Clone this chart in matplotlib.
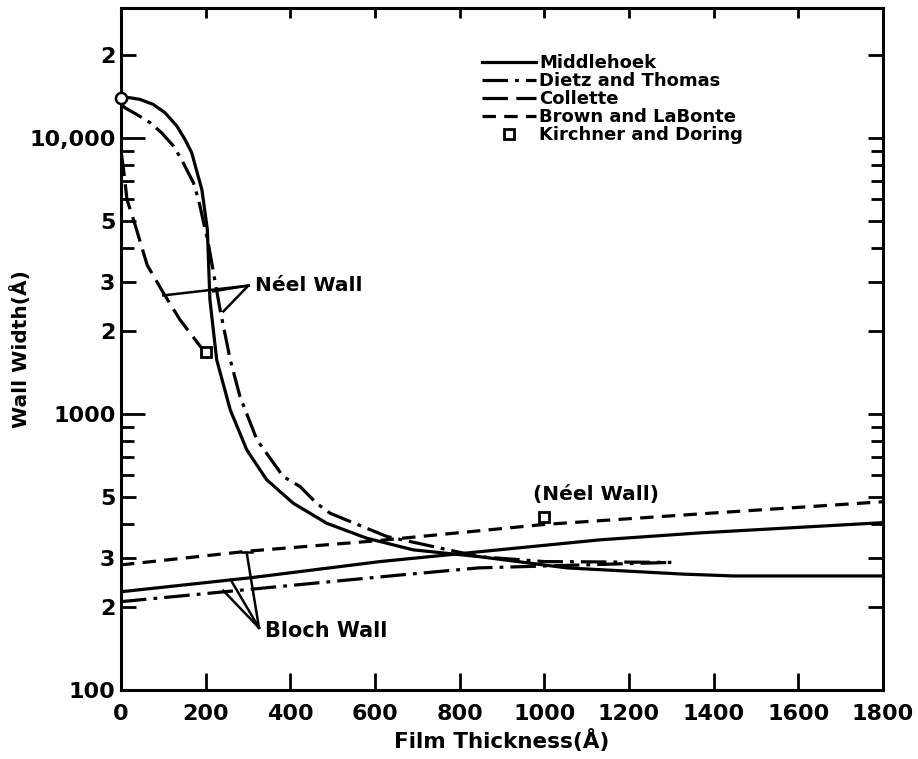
import matplotlib.pyplot as plt
from matplotlib.ticker import FixedLocator, FixedFormatter, NullFormatter

# wall width vs film thickness
middlehoek_neel_x = [0, 21, 45, 76, 104, 132, 151, 167, 180, 191, 204, 210, 226, 258, 297, 344, 407, 486, 580, 690, 848, 1053, 1328, 1446, 1800]
middlehoek_neel_y = [14000, 14000, 13800, 13240, 12350, 11050, 9890, 8850, 7480, 6510, 4660, 2600, 1574, 1036, 742, 578, 475, 402, 355, 322, 304, 277, 263, 259, 259]

dietz_neel_x = [0, 9, 37, 69, 96, 124, 143, 155, 171, 183, 206, 234, 258, 281, 321, 383, 423, 462, 494, 541, 628, 848, 1000, 1300]
dietz_neel_y = [13400, 12880, 12180, 11360, 10450, 9350, 8360, 7690, 6890, 5990, 4170, 2390, 1574, 1158, 807, 594, 546, 475, 437, 408, 360, 304, 292, 290]

collette_x = [0, 9, 14, 31, 62, 100, 139, 187, 200]
collette_y = [9000, 7080, 5990, 4980, 3460, 2750, 2200, 1760, 1680]

brown_x = [0, 305, 600, 1000, 1400, 1800]
brown_y = [284, 319, 347, 398, 438, 481]

middlehoek_bloch_x = [0, 305, 612, 1131, 1368, 1800]
middlehoek_bloch_y = [227, 255, 292, 350, 371, 404]

dietz_bloch_x = [0, 659, 845, 1300]
dietz_bloch_y = [209, 261, 277, 290]

kirchner_x = [200, 1000]
kirchner_y = [1680, 423]

x_ticks = [0, 200, 400, 600, 800, 1000, 1200, 1400, 1600, 1800]
x_tick_labels = ["0", "200", "400", "600", "800", "1000", "1200", "1400", "1600", "1800"]
y_ticks = [100, 200, 300, 500, 1000, 2000, 3000, 5000, 10000, 20000]
y_tick_labels = ["100", "2", "3", "5", "1000", "2", "3", "5", "10,000", "2"]
y_minor = [400, 600, 700, 800, 900, 4000, 6000, 7000, 8000, 9000]

plt.rcParams["font.family"] = ["DejaVu Sans"]
plt.rcParams["font.weight"] = "bold"

LW = 2.3
fig = plt.figure(figsize=(9.18, 7.59), dpi=100)
ax = fig.add_axes([0.1318, 0.0909, 0.8301, 0.8986])

ax.plot(middlehoek_neel_x, middlehoek_neel_y, color="black", lw=LW, label="Middlehoek")
ax.plot(middlehoek_bloch_x, middlehoek_bloch_y, color="black", lw=LW)
dd = (8, 2.2, 1.2, 2.2)
ax.plot(dietz_neel_x, dietz_neel_y, color="black", lw=LW, dashes=dd, label="Dietz and Thomas")
ax.plot(dietz_bloch_x, dietz_bloch_y, color="black", lw=LW, dashes=dd)
ax.plot(collette_x, collette_y, color="black", lw=LW, dashes=(8, 2.6), label="Collette")
ax.plot(brown_x, brown_y, color="black", lw=LW, dashes=(4.2, 2.6), label="Brown and LaBonte")
ax.plot(kirchner_x, kirchner_y, ls="none", marker="s", ms=7, mfc="white", mec="black", mew=2,
        label="Kirchner and Doring")
ax.plot([0], [14000], ls="none", marker="o", ms=8, mfc="white", mec="black", mew=1.8, clip_on=False, zorder=5)

# leader lines for the wall-type labels
neel_apex = (301, 2920)
for tx, ty in [(100, 2690), (218, 2784), (242, 2355)]:
    ax.plot([neel_apex[0], tx], [neel_apex[1], ty], color="black", lw=1.8)
ax.text(316, 2920, "Néel Wall", fontsize=14.5, fontweight="bold", va="center", ha="left")

bloch_apex = (326, 168)
for tx, ty in [(242, 229), (259, 251), (297, 314)]:
    ax.plot([bloch_apex[0], tx], [bloch_apex[1], ty], color="black", lw=1.8)
ax.plot([285, 310], [316, 316], color="black", lw=1.8)
ax.text(340, 163, "Bloch Wall", fontsize=15, fontweight="bold", va="center", ha="left")

ax.text(973, 509, "(Néel Wall)", fontsize=14.5, fontweight="bold", va="center", ha="left")

ax.set_yscale("log")
ax.set_xlim(0, 1800)
ax.set_ylim(100, 29600)

ax.xaxis.set_major_locator(FixedLocator(x_ticks))
ax.xaxis.set_major_formatter(FixedFormatter(x_tick_labels))
ax.yaxis.set_major_locator(FixedLocator(y_ticks))
ax.yaxis.set_major_formatter(FixedFormatter(y_tick_labels))
ax.yaxis.set_minor_locator(FixedLocator(y_minor))
ax.yaxis.set_minor_formatter(NullFormatter())

ax.tick_params(axis="x", which="major", direction="in", length=12, width=2, top=True, labelsize=16, pad=10)
ax.tick_params(axis="y", which="major", direction="in", length=11, width=2, right=True, labelsize=16, pad=4)
ax.tick_params(axis="y", which="minor", direction="in", length=9, width=2, right=True)
for t, v in zip(ax.yaxis.get_major_ticks(), y_ticks):
    if v in (100, 1000, 10000):
        t.tick1line.set_markersize(17)
for t in ax.xaxis.get_major_ticks():
    t.tick2line.set_markersize(7)
for lab in ax.get_xticklabels() + ax.get_yticklabels():
    lab.set_fontweight("bold")

for s in ax.spines.values():
    s.set_linewidth(2.2)

ax.set_xlabel("Film Thickness(Å)", fontsize=15.5, fontweight="bold", labelpad=4)
ax.set_ylabel("Wall Width(Å)", fontsize=14.5, fontweight="bold")
ax.yaxis.set_label_coords(-0.118, 0.5)

ax.legend(loc="upper left", bbox_to_anchor=(0.474, 0.932), frameon=False, fontsize=13,
          handlelength=3.0, handletextpad=0.15, labelspacing=0.0, borderpad=0, borderaxespad=0)

fig.savefig("out.png", dpi=100)
